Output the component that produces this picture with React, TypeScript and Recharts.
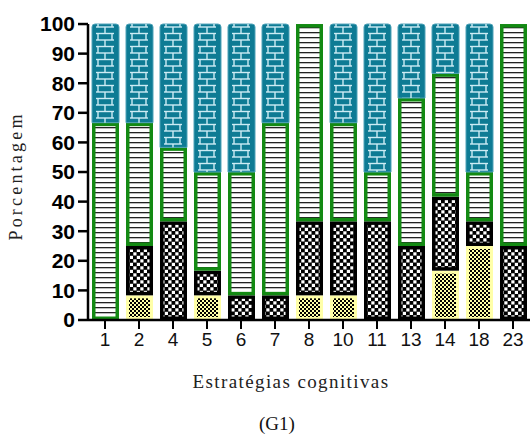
import { BarChart, Bar, XAxis, YAxis } from 'recharts'

// Estratégias cognitivas (G1) - percent per segment, bottom to top
const categories = ['1', '2', '4', '5', '6', '7', '8', '10', '11', '13', '14', '18', '23']
const yellowVals = [0, 8.33, 0, 8.33, 0, 0, 8.33, 8.33, 0, 0, 16.67, 25, 0]
const blackVals = [0, 16.67, 33.33, 8.33, 8.33, 8.33, 25, 25, 33.33, 25, 25, 8.33, 25]
const whiteVals = [66.67, 41.67, 25, 33.33, 41.67, 58.33, 66.67, 33.33, 16.67, 50, 41.67, 16.67, 75]
const tealVals = [33.33, 33.33, 41.67, 50, 50, 33.33, 0, 33.33, 50, 25, 16.67, 50, 0]
const yTicks = [0, 10, 20, 30, 40, 50, 60, 70, 80, 90, 100]

const data = categories.map((c, i) => ({
  name: c,
  yellow: yellowVals[i],
  black: blackVals[i],
  white: whiteVals[i],
  teal: tealVals[i],
}))

const TEAL = '#0E7B94'
const GREEN = '#138A13'
const SANS = "'Liberation Sans', Arial, sans-serif"
const SERIF = "'Liberation Serif', 'Times New Roman', serif"

// draws the rect with its border kept inside the segment (Prism style)
function InsetBar(props: any) {
  const { x, y, width, height, fill, stroke, sw, inset } = props
  if (!height || height <= 0) return null
  const s = sw || 0
  const ins = inset || 0
  const h = Math.max(height - s - ins * 2, 0.5)
  return (
    <g>
      {props.under && <rect x={x} y={y} width={width} height={height} fill={props.under} />}
      <rect
        x={x + s / 2 + ins}
        y={y + s / 2 + ins}
        width={width - s - ins * 2}
        height={h}
        fill={fill}
        stroke={stroke || 'none'}
        strokeWidth={s}
      />
    </g>
  )
}

function TealBar(props: any) {
  const { x, y, width, height } = props
  if (!height || height <= 0) return null
  const r = 3
  const d = `M${x},${y + height} L${x},${y + r} Q${x},${y} ${x + r},${y} L${x + width - r},${y} Q${x + width},${y} ${x + width},${y + r} L${x + width},${y + height} Z`
  return (
    <g>
      <path d={d} fill={TEAL} stroke="#4fa3b8" strokeWidth={1} />
      <path d={d} fill="url(#brick)" />
    </g>
  )
}

export default function App() {
  return (
    <div style={{ position: 'absolute', left: 0, top: 0, width: 532, height: 438, background: '#fff' }}>
      <BarChart
        width={532}
        height={438}
        data={data}
        margin={{ top: 24, right: 2, left: 0, bottom: 38 }}
        barSize={27}
      >
        <defs>
          <pattern id="chk" patternUnits="userSpaceOnUse" width={7} height={7}>
            <rect width={7} height={7} fill="#000" />
            <rect x={0.3} y={0.3} width={3.2} height={3.2} fill="#fff" />
            <rect x={3.8} y={3.8} width={3.2} height={3.2} fill="#fff" />
          </pattern>
          <pattern id="dots" patternUnits="userSpaceOnUse" width={4} height={4}>
            <rect width={4} height={4} fill="#FFFFA8" />
            <rect x={0} y={0} width={2} height={2} fill="#000" />
            <rect x={2} y={2} width={2} height={2} fill="#000" />
          </pattern>
          <pattern id="lines" patternUnits="userSpaceOnUse" width={6} height={5}>
            <rect width={6} height={5} fill="#fff" />
            <rect x={0} y={2} width={6} height={1.3} fill="#222" />
          </pattern>
          <pattern id="brick" patternUnits="userSpaceOnUse" x={88} y={24} width={34} height={13}>
            <g stroke="#CDECF5" strokeWidth={1.4} fill="none">
              <line x1={8} y1={3} x2={26} y2={3} />
              <line x1={17} y1={3} x2={17} y2={9.5} />
              <line x1={8} y1={9.5} x2={26} y2={9.5} />
              <line x1={10} y1={9.5} x2={10} y2={16} />
              <line x1={24} y1={9.5} x2={24} y2={16} />
              <line x1={10} y1={-3.5} x2={10} y2={3} />
              <line x1={24} y1={-3.5} x2={24} y2={3} />
            </g>
          </pattern>
        </defs>
        <XAxis
          dataKey="name"
          height={80}
          tickSize={9}
          tickMargin={4}
          axisLine={{ stroke: '#000', strokeWidth: 2.5 }}
          tickLine={{ stroke: '#000', strokeWidth: 2 }}
          tick={{ fill: '#111', fontSize: 19, fontFamily: SANS }}
          interval={0}
        />
        <YAxis
          width={88}
          domain={[0, 100]}
          ticks={yTicks}
          interval={0}
          tickSize={10}
          tickMargin={3}
          axisLine={{ stroke: '#000', strokeWidth: 2.5 }}
          tickLine={{ stroke: '#000', strokeWidth: 2.5 }}
          tick={{ fill: '#000', fontSize: 21, fontWeight: 'bold', fontFamily: SANS }}
          label={{
            value: 'Porcentagem',
            angle: -90,
            position: 'insideLeft',
            offset: 16,
            dx: 0,
            dy: 4,
            fill: '#222',
            fontSize: 18,
            fontFamily: SERIF,
            letterSpacing: 3.2,
            textAnchor: 'middle',
          }}
        />
        <Bar dataKey="yellow" stackId="s" fill="url(#dots)" isAnimationActive={false}
          shape={(p: any) => <InsetBar {...p} fill="url(#dots)" under="#FFFFA8" inset={3} />} />
        <Bar dataKey="black" stackId="s" fill="url(#chk)" isAnimationActive={false}
          shape={(p: any) => <InsetBar {...p} fill="url(#chk)" stroke="#000" sw={3.5} />} />
        <Bar dataKey="white" stackId="s" fill="url(#lines)" isAnimationActive={false}
          shape={(p: any) => <InsetBar {...p} fill="url(#lines)" stroke={GREEN} sw={3.5} />} />
        <Bar dataKey="teal" stackId="s" fill={TEAL} isAnimationActive={false}
          shape={(p: any) => <TealBar {...p} />} />
      </BarChart>
      <div style={{ position: 'absolute', left: 0, width: 582, top: 371, margin: 0, lineHeight: '22px', textAlign: 'center', fontFamily: SERIF, fontSize: 19, letterSpacing: 1.4, color: '#222' }}>
        Estratégias cognitivas
      </div>
      <div style={{ position: 'absolute', left: 0, width: 554, top: 413, margin: 0, lineHeight: '22px', textAlign: 'center', fontFamily: SERIF, fontSize: 19, color: '#111' }}>
        (G1)
      </div>
    </div>
  )
}
